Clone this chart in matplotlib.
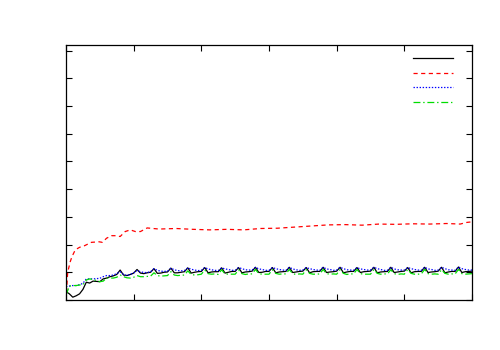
import numpy as np
import matplotlib
matplotlib.use("Agg")
import matplotlib.pyplot as plt

# time grid for the three periodic series (step 0.2)
t = np.round(np.arange(0, 24.01, 0.2), 1)

black_vals = [
    0.30, 0.22, 0.10, 0.15, 0.22,
    0.38, 0.64, 0.61, 0.68, 0.67,
    0.66, 0.76, 0.79, 0.84, 0.87,
    0.92, 1.08, 0.90, 0.88, 0.92,
    0.97, 1.10, 0.97, 0.95, 0.98,
    1.00, 1.13, 0.96, 0.97, 1.00,
    1.01, 1.15, 0.98, 0.98, 1.00,
    1.02, 1.16, 0.97, 1.00, 1.02,
    1.03, 1.17, 0.98, 1.01, 1.02,
    1.02, 1.16, 0.97, 1.00, 1.03,
    1.03, 1.17, 0.98, 1.01, 1.02,
    1.04, 1.18, 0.99, 1.00, 1.03,
    1.03, 1.17, 0.98, 1.01, 1.02,
    1.03, 1.18, 0.99, 1.01, 1.03,
    1.04, 1.17, 0.98, 1.02, 1.03,
    1.03, 1.18, 0.99, 1.01, 1.02,
    1.04, 1.18, 0.98, 1.01, 1.03,
    1.03, 1.17, 0.99, 1.02, 1.03,
    1.04, 1.18, 0.98, 1.01, 1.02,
    1.03, 1.18, 0.99, 1.01, 1.03,
    1.04, 1.17, 0.98, 1.02, 1.03,
    1.03, 1.18, 0.99, 1.01, 1.02,
    1.04, 1.18, 0.98, 1.01, 1.03,
    1.03, 1.19, 0.99, 1.02, 1.03,
    1.04,
]

blue_vals = [
    0.48, 0.50, 0.52, 0.52, 0.55,
    0.60, 0.76, 0.76, 0.76, 0.77,
    0.78, 0.84, 0.88, 0.88, 0.90,
    0.95, 1.02, 0.92, 0.88, 0.92,
    0.98, 1.06, 1.02, 0.99, 0.99,
    1.02, 1.13, 1.07, 1.04, 1.03,
    1.04, 1.15, 1.09, 1.06, 1.05,
    1.06, 1.16, 1.11, 1.08, 1.06,
    1.07, 1.17, 1.12, 1.09, 1.07,
    1.06, 1.16, 1.12, 1.10, 1.07,
    1.07, 1.17, 1.13, 1.09, 1.08,
    1.08, 1.18, 1.12, 1.10, 1.07,
    1.07, 1.17, 1.13, 1.10, 1.08,
    1.07, 1.18, 1.12, 1.09, 1.07,
    1.08, 1.17, 1.13, 1.10, 1.08,
    1.07, 1.18, 1.12, 1.10, 1.07,
    1.08, 1.18, 1.13, 1.09, 1.08,
    1.07, 1.17, 1.12, 1.10, 1.08,
    1.08, 1.18, 1.13, 1.10, 1.07,
    1.07, 1.18, 1.12, 1.09, 1.08,
    1.08, 1.17, 1.13, 1.10, 1.08,
    1.07, 1.18, 1.12, 1.10, 1.07,
    1.08, 1.18, 1.13, 1.09, 1.08,
    1.07, 1.19, 1.13, 1.10, 1.08,
    1.08,
]

green_vals = [
    0.18, 0.50, 0.52, 0.52, 0.54,
    0.55, 0.72, 0.76, 0.74, 0.70,
    0.66, 0.68, 0.79, 0.79, 0.79,
    0.82, 0.90, 0.84, 0.80, 0.79,
    0.82, 0.88, 0.84, 0.84, 0.85,
    0.86, 0.98, 0.88, 0.86, 0.87,
    0.88, 1.02, 0.90, 0.88, 0.89,
    0.90, 1.05, 0.92, 0.90, 0.91,
    0.93, 1.08, 0.95, 0.93, 0.94,
    0.92, 1.09, 0.94, 0.93, 0.93,
    0.93, 1.08, 0.95, 0.92, 0.94,
    0.94, 1.10, 0.95, 0.93, 0.93,
    0.93, 1.09, 0.96, 0.93, 0.94,
    0.94, 1.10, 0.95, 0.92, 0.94,
    0.93, 1.09, 0.96, 0.93, 0.93,
    0.94, 1.10, 0.95, 0.93, 0.94,
    0.93, 1.09, 0.96, 0.92, 0.94,
    0.94, 1.10, 0.95, 0.93, 0.93,
    0.93, 1.10, 0.96, 0.93, 0.94,
    0.94, 1.09, 0.95, 0.92, 0.94,
    0.93, 1.10, 0.96, 0.93, 0.93,
    0.94, 1.10, 0.95, 0.93, 0.94,
    0.93, 1.09, 0.96, 0.93, 0.94,
    0.94, 1.10, 0.95, 0.93, 0.94,
    0.95,
]

red_t = [0, 0.1, 0.25, 0.35, 0.55, 0.8, 1.1, 1.5, 1.95, 2.15, 2.4, 2.7, 3.0,
         3.2, 3.5, 3.8, 4.1, 4.4, 4.8, 5.5, 6.5, 7.5, 8.5, 9.5, 10.5, 11.5,
         12.5, 13.5, 14.5, 15.5, 16.5, 17.5, 18.5, 19.5, 20.5, 21.5, 22.5,
         23.3, 23.7, 24.0]
red_vals = [0, 1.0, 1.38, 1.56, 1.81, 1.90, 1.96, 2.08, 2.10, 2.08, 2.23, 2.32,
            2.32, 2.29, 2.47, 2.53, 2.47, 2.47, 2.60, 2.56, 2.58, 2.55, 2.53,
            2.55, 2.53, 2.58, 2.59, 2.63, 2.67, 2.71, 2.72, 2.70, 2.74, 2.73,
            2.75, 2.74, 2.76, 2.74, 2.80, 2.82]

plt.rcParams['lines.scale_dashes'] = False

fig = plt.figure(figsize=(5, 3.5), dpi=100)
ax = fig.add_axes([0.132, 0.143, 0.812, 0.728])

l1, = ax.plot(t, black_vals, color="black", lw=0.9)
l2, = ax.plot(red_t, red_vals, color="red", lw=0.9, dashes=(3, 2.5))
l3, = ax.plot(t, blue_vals, color="blue", lw=0.9, dashes=(1, 1.2))
l4, = ax.plot(t, green_vals, color="#00dd00", lw=0.9, dashes=(5, 2, 1, 2))

ax.set_xlim(0, 24)
ax.set_ylim(0, 9.2)
ax.set_xticks(np.arange(0, 25, 4))
ax.set_yticks(np.arange(0, 10, 1))
ax.tick_params(direction="in", length=4, width=0.8, top=True, right=True,
               labelbottom=False, labelleft=False)
for s in ax.spines.values():
    s.set_linewidth(0.9)

ax.legend([l1, l2, l3, l4], [" ", " ", " ", " "], loc="upper left",
          bbox_to_anchor=(413 / 500, 1 - 54 / 350), bbox_transform=fig.transFigure,
          frameon=False, fontsize=8, handlelength=3.6, handletextpad=0.2,
          labelspacing=0.42, borderpad=0, borderaxespad=0)

fig.savefig("out.png", dpi=100)
